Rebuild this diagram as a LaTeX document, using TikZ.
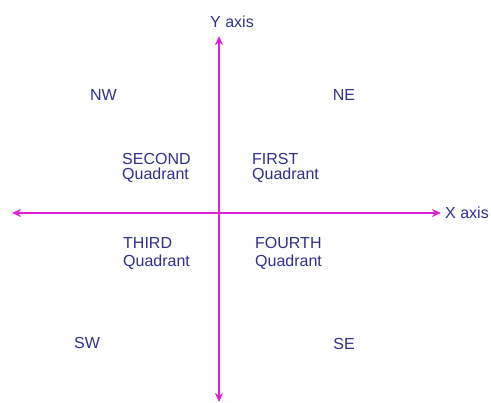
\documentclass[tikz,border=0pt]{standalone}
\usepackage{fontspec}
\setmainfont{Liberation Sans}
\usetikzlibrary{arrows.meta}
\definecolor{axiscol}{HTML}{E020D8}
\definecolor{txtcol}{HTML}{30308A}
\tikzset{
  axisline/.style={draw=axiscol, line width=1.6pt, -{Stealth[length=9pt,width=8pt]}},
  lbl/.style={text=txtcol, font=\fontsize{16}{15}\selectfont, inner sep=0pt, align=left},
}
\begin{document}
\begin{tikzpicture}[x=1pt,y=-1pt]
\useasboundingbox[fill=white] (0,0) rectangle (491,403);
\coordinate (o) at (219,213);
\coordinate (top) at (219,36);
\coordinate (bot) at (219,402);
\coordinate (lft) at (12,213);
\coordinate (rgt) at (441,213);
\draw[axisline] (o) -- (top);
\draw[axisline] (o) -- (bot);
\draw[axisline] (o) -- (lft);
\draw[axisline] (o) -- (rgt);
\node[lbl, anchor=base] (yax) at (232,28) {Y axis};
\node[lbl, anchor=base west] (xax) at (445,219) {X axis};
\node[lbl, anchor=base] (nw) at (103.5,101) {NW};
\node[lbl, anchor=base] (ne) at (344,101) {NE};
\node[lbl, anchor=base] (sw) at (87,349) {SW};
\node[lbl, anchor=base] (se) at (344,350) {SE};
\node[lbl, anchor=base west] (q2) at (122,180) {SECOND\\Quadrant};
\node[lbl, anchor=base west] (q1) at (252,180) {FIRST\\Quadrant};
\node[lbl, anchor=base west] (q3) at (123,267) {THIRD\\[3pt]Quadrant};
\node[lbl, anchor=base west] (q4) at (255,267) {FOURTH\\[3pt]Quadrant};
\end{tikzpicture}
\end{document}
